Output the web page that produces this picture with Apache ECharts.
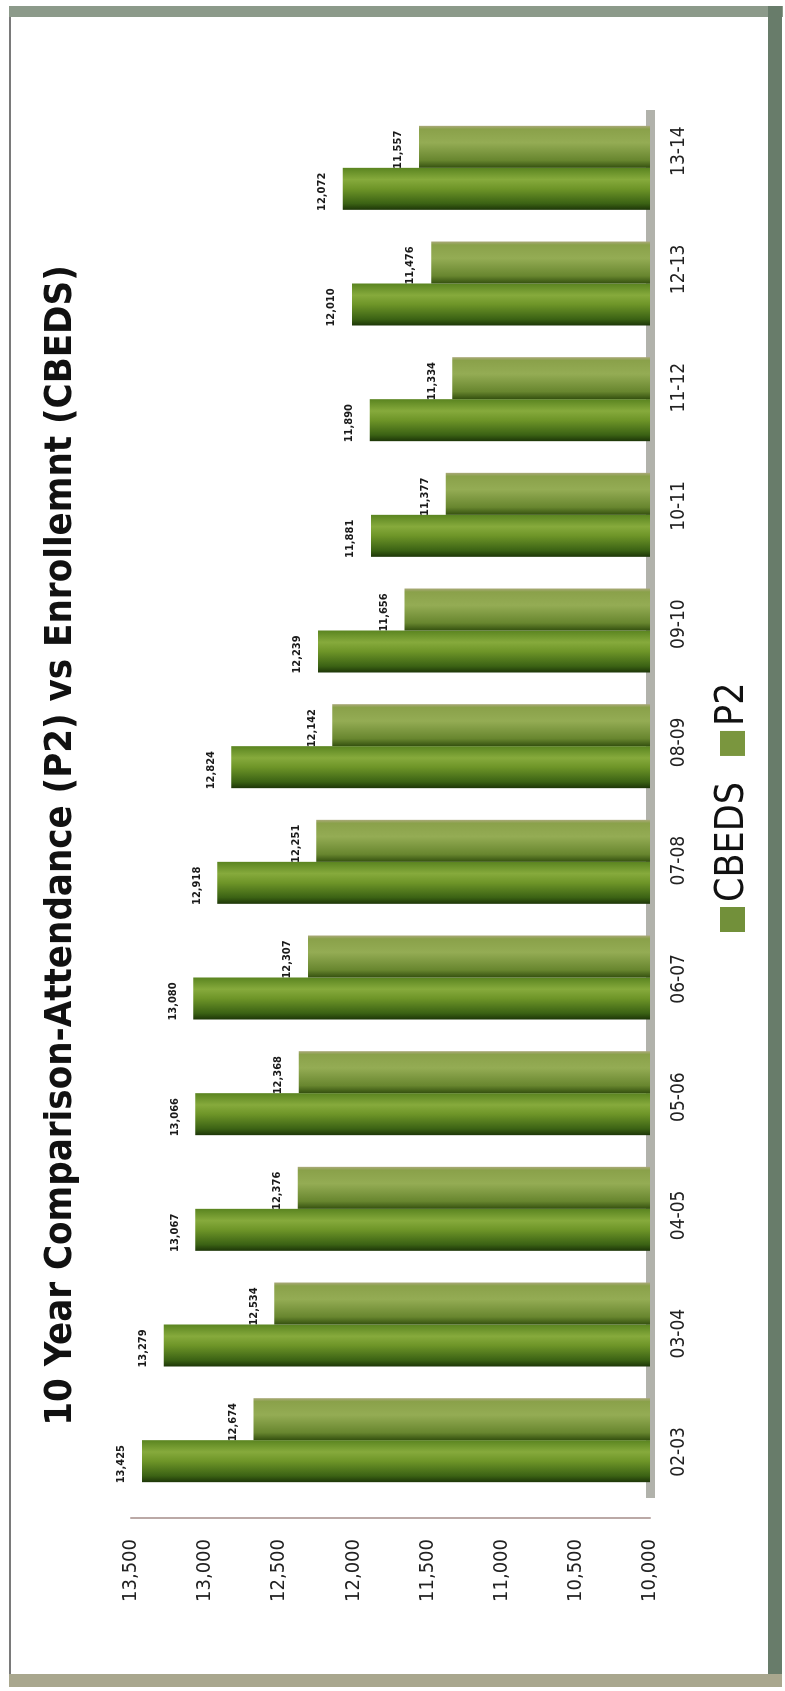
<!DOCTYPE html>
<html>
<head>
<meta charset="utf-8">
<script src="https://cdn.jsdelivr.net/npm/echarts@6/dist/echarts.min.js"></script>
<style>
  html, body { margin: 0; padding: 0; background: #fff; }
  #wrap { position: relative; width: 785px; height: 1691px; overflow: hidden; }
  /* chart is drawn landscape, then turned a quarter to the left */
  #myChart {
    position: absolute; left: 0; top: 0;
    width: 1691px; height: 785px;
    transform-origin: 0 0;
    transform: translate(0, 1691px) rotate(-90deg);
  }
</style>
</head>
<body>
<div id="wrap"><div id="myChart"></div></div>
<script>
const years = ["02-03", "03-04", "04-05", "05-06", "06-07", "07-08", "08-09", "09-10", "10-11", "11-12", "12-13", "13-14"];
const cbeds = [13425, 13279, 13067, 13066, 13080, 12918, 12824, 12239, 11881, 11890, 12010, 12072];
const p2 = [12674, 12534, 12376, 12368, 12307, 12251, 12142, 11656, 11377, 11334, 11476, 11557];
const valueTicks = [10000, 10500, 11000, 11500, 12000, 12500, 13000, 13500];

const FONT = "'Liberation Sans Narrow', 'DejaVu Sans Condensed', 'Liberation Sans', sans-serif";
const fmt = v => Number(v).toLocaleString("en-US");

const chart = echarts.init(document.getElementById("myChart"));

const cbedsFill = new echarts.graphic.LinearGradient(0, 0, 1, 0, [
  { offset: 0, color: "#1d3608" },
  { offset: 0.15, color: "#3b6214" },
  { offset: 0.5, color: "#6e9528" },
  { offset: 0.72, color: "#86aa3c" },
  { offset: 1, color: "#5a8420" }
]);
const p2Fill = new echarts.graphic.LinearGradient(0, 0, 1, 0, [
  { offset: 0, color: "#34500f" },
  { offset: 0.18, color: "#68862f" },
  { offset: 0.6, color: "#94ac54" },
  { offset: 0.92, color: "#8aa14a" },
  { offset: 1, color: "#aaa97a" }
]);

const labelStyle = {
  show: true,
  position: "top",
  distance: 15,
  offset: [-3, 0],
  fontFamily: FONT,
  fontWeight: "bold",
  fontSize: 11,
  color: "#1a1a1a",
  formatter: p => fmt(p.value)
};

const options = {
  backgroundColor: "#fff",
  animation: false,
  title: {
    text: "10 Year Comparison-Attendance (P2) vs Enrollemnt (CBEDS)",
    left: "center",
    top: 42,
    padding: [0, 0, 0, 16],
    textStyle: { fontFamily: FONT, fontWeight: "bold", fontSize: 38, color: "#111" }
  },
  legend: {
    left: 754,
    top: 708,
    itemWidth: 25,
    itemHeight: 25,
    itemGap: 26,
    icon: "rect",
    textStyle: { fontFamily: FONT, fontSize: 39, color: "#111" },
    data: [
      { name: "CBEDS", itemStyle: { color: "#72903a" } },
      { name: "P2", itemStyle: { color: "#7a963e" } }
    ]
  },
  grid: [
    { left: 193, right: 110, top: 131, bottom: 135 },
    { left: 180, right: 92, top: 131, bottom: 135 }
  ],
  xAxis: [
    {
      type: "category",
      gridIndex: 0,
      data: years,
      axisLine: { show: true, lineStyle: { color: "#b1b2ab", width: 9, cap: "butt" } },
      axisTick: { show: false },
      axisLabel: { show: false }
    },
    {
      type: "category",
      gridIndex: 1,
      data: years,
      axisLine: { show: false },
      axisTick: { show: false },
      axisLabel: { margin: 20, fontFamily: FONT, fontSize: 19, color: "#222" }
    }
  ],
  yAxis: [
    {
      type: "value",
      gridIndex: 0,
      min: valueTicks[0],
      max: valueTicks[valueTicks.length - 1],
      interval: 500,
      offset: 20,
      axisLine: { show: true, lineStyle: { color: "#bba9a6", width: 2 } },
      axisTick: { show: false },
      splitLine: { show: false },
      axisLabel: { margin: 21, fontFamily: FONT, fontSize: 20, color: "#222", formatter: fmt }
    },
    { type: "value", gridIndex: 1, show: false }
  ],
  series: [
    {
      name: "CBEDS",
      type: "bar",
      xAxisIndex: 0,
      yAxisIndex: 0,
      data: cbeds,
      barWidth: 42,
      barGap: "0%",
      itemStyle: { color: cbedsFill },
      label: labelStyle
    },
    {
      name: "P2",
      type: "bar",
      xAxisIndex: 0,
      yAxisIndex: 0,
      data: p2,
      barWidth: 42,
      barGap: "0%",
      itemStyle: { color: p2Fill },
      label: labelStyle
    }
  ],
  graphic: [
    // scanned page frame
    { type: "rect", shape: { x: 17, y: 9, width: 1657, height: 2 }, style: { fill: "#7a7a7a" }, silent: true },
    { type: "rect", shape: { x: 1674, y: 9, width: 11, height: 774 }, style: { fill: "#8c9a8a" }, silent: true },
    { type: "rect", shape: { x: 4, y: 768, width: 1681, height: 14 }, style: { fill: "#687c6a" }, silent: true },
    { type: "rect", shape: { x: 4, y: 9, width: 13, height: 773 }, style: { fill: "#a9a78e" }, silent: true }
  ]
};

chart.setOption(options);
</script>
</body>
</html>
